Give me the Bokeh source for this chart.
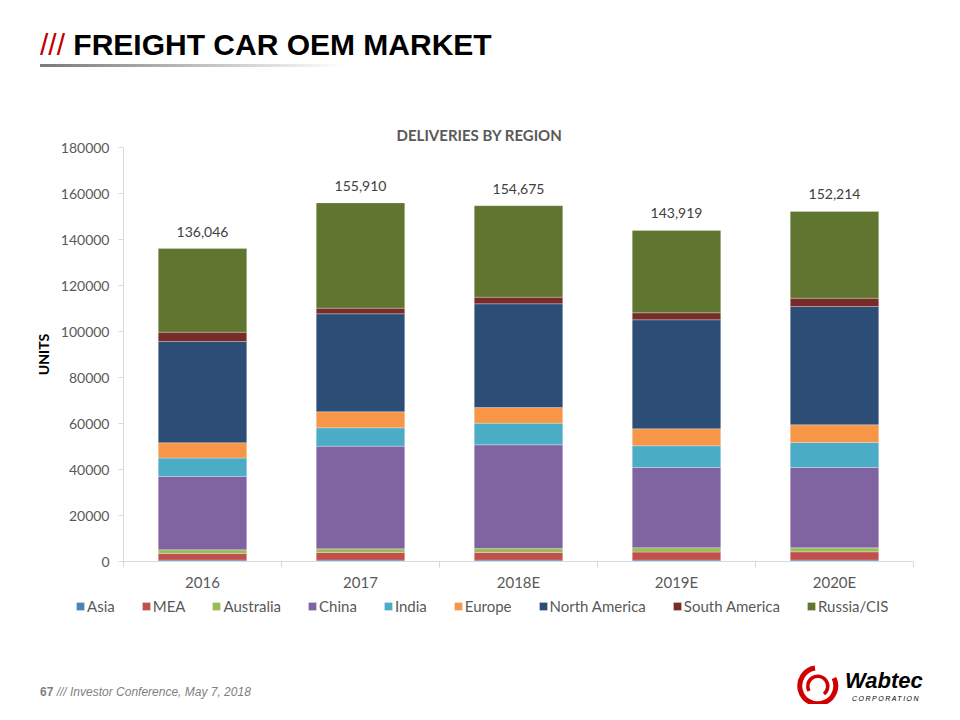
import numpy as np
from bokeh.plotting import figure
from bokeh.layouts import column
from bokeh.models import (ColumnDataSource, Range1d, FixedTicker, BasicTickFormatter,
                          Legend, LegendItem, Label, Div)
from bokeh.embed import file_html
from bokeh.resources import INLINE
from bokeh.core.properties import value

# ---------------- data ----------------
years = ["2016", "2017", "2018E", "2019E", "2020E"]
totals = [136046, 155910, 154675, 143919, 152214]
asia = [600, 600, 600, 600, 600]
mea = [2900, 3300, 3300, 3500, 3600]
australia = [1600, 1600, 1750, 1900, 1750]
china = [31900, 44640, 45090, 34870, 34920]
india = [7950, 7990, 9400, 9430, 10870]
europe = [6700, 6960, 6820, 7400, 7700]
north_america = [44000, 42610, 45090, 47390, 51430]
south_america = [4050, 2440, 2870, 3040, 3610]
russia_cis = [36346, 45770, 39755, 35789, 37734]

series_names = ["Asia", "MEA", "Australia", "China", "India", "Europe",
                "North America", "South America", "Russia/CIS"]
series_keys = ["asia", "mea", "australia", "china", "india", "europe",
               "north_america", "south_america", "russia_cis"]
series_colors = ["#4F81BD", "#C0504D", "#9BBB59", "#8064A2", "#4BACC6",
                 "#F79646", "#2C4D75", "#772C2A", "#5F7530"]
y_ticks = [0, 20000, 40000, 60000, 80000, 100000, 120000, 140000, 160000, 180000]

# ---------------- layout constants (page pixels) ----------------
W = 944
HEAD_H = 100          # header div: 0..100
MAIN_BOTTOM = 632     # chart figure: 100..632
TOTAL_H = 704         # footer div: 632..704
AX_L, AX_R, AX_T, AX_B = 123, 913, 147, 561   # where the axes sit on the page

n = len(years)
ymax = y_ticks[-1]
px_x = (AX_R - AX_L) / n          # pixels per category
px_y = (AX_B - AX_T) / ymax       # pixels per unit


def X(px):   # page x -> data x (for placing decorations)
    return (px - AX_L) / px_x


def Y(py):   # page y -> data y
    return (AX_B - py) / px_y


# ---------------- header ----------------
head_html = """
<div style="position:relative;width:944px;height:100px;overflow:hidden;
            font-family:'Liberation Sans',Arial,sans-serif;">
  <div style="position:absolute;left:40px;top:27px;font-size:30px;line-height:36px;
              white-space:nowrap;">
    <span style="color:#C00000;">///</span>
    <span style="font-weight:bold;color:#000000;">FREIGHT CAR OEM MARKET</span>
  </div>
  <div style="position:absolute;left:40px;top:64px;width:305px;height:3px;
              background:linear-gradient(to right,#7A7A7A,#FFFFFF);"></div>
</div>
"""
head = Div(text=head_html, width=W, height=HEAD_H, margin=0)

# ---------------- main chart ----------------
centers = np.arange(n) + 0.5
bounds = list(np.arange(n + 1).astype(float))

src = ColumnDataSource(dict(
    x=centers, asia=asia, mea=mea, australia=australia, china=china, india=india,
    europe=europe, north_america=north_america, south_america=south_america,
    russia_cis=russia_cis, tot=totals, lbl=[f"{t:,}" for t in totals]))

p = figure(frame_width=W, frame_height=MAIN_BOTTOM - HEAD_H, output_backend="svg",
           toolbar_location=None,
           x_range=Range1d(X(0), X(W)), y_range=Range1d(Y(MAIN_BOTTOM), Y(HEAD_H)),
           min_border=0, min_border_left=0, min_border_right=0,
           min_border_top=0, min_border_bottom=0)
p.outline_line_color = None
p.xgrid.visible = False
p.ygrid.visible = False
p.background_fill_color = "white"
p.border_fill_color = "white"

renderers = p.vbar_stack(series_keys, x="x", width=0.56, color=series_colors, source=src,
                         line_color="white", line_width=0.5, line_alpha=0.5)

p.text(x="x", y="tot", text="lbl", source=src, text_align="center", text_baseline="bottom",
       y_offset=-12, text_font=value("Lato"), text_font_size="14px", text_color="#404040")

xa = p.xaxis[0]
xa.fixed_location = 0
xa.bounds = (0, n)
xa.ticker = FixedTicker(ticks=list(centers), minor_ticks=bounds)
xa.major_label_overrides = {float(c): y for c, y in zip(centers, years)}
xa.major_tick_line_color = None
xa.major_tick_out = 0
xa.major_tick_in = 0
xa.minor_tick_line_color = "#D9D9D9"
xa.minor_tick_out = 6
xa.minor_tick_in = 0
xa.axis_line_color = "#D9D9D9"
xa.major_label_standoff = 5
xa.major_label_text_font = "Lato"
xa.major_label_text_font_size = "15px"
xa.major_label_text_color = "#595959"

ya = p.yaxis[0]
ya.fixed_location = 0
ya.bounds = (0, ymax)
ya.ticker = FixedTicker(ticks=y_ticks)
ya.formatter = BasicTickFormatter(use_scientific=False)
ya.axis_line_color = "#D9D9D9"
ya.major_tick_line_color = "#D9D9D9"
ya.major_tick_out = 5
ya.major_tick_in = 0
ya.minor_tick_line_color = None
ya.major_label_standoff = 9
ya.major_label_text_font = "Lato"
ya.major_label_text_font_size = "14px"
ya.major_label_text_color = "#595959"
ya.axis_label = "UNITS"
ya.axis_label_text_font = "Lato"
ya.axis_label_text_font_style = "bold"
ya.axis_label_text_font_size = "14px"
ya.axis_label_text_color = "#000000"
ya.axis_label_standoff = 6

p.add_layout(Label(x=X(479), y=Y(134), text="DELIVERIES BY REGION", text_align="center",
                   text_baseline="middle", text_font="Lato", text_font_style="bold",
                   text_font_size="15px", text_color="#595959"))

items = [LegendItem(label=nm, renderers=[r]) for nm, r in zip(series_names, renderers)]
legend = Legend(items=items, orientation="horizontal", location=(75, MAIN_BOTTOM - 615),
                padding=0, margin=0, spacing=26, glyph_width=10, glyph_height=10,
                label_standoff=2, label_height=16, label_text_font="Lato",
                label_text_font_size="15px", label_text_color="#595959",
                background_fill_alpha=0, border_line_color=None)
p.add_layout(legend, "center")

# ---------------- footer ----------------
logo_svg = """
<svg width="44" height="44" viewBox="-22 -22 44 44" style="position:absolute;left:796px;top:32px;">
  <path d="M -3 -18 A 18 18 0 1 0 16 -8" fill="none" stroke="#D00000" stroke-width="5"/>
  <path d="M -9 5 A 10 10 0 1 1 6 8" fill="none" stroke="#D00000" stroke-width="3.5"/>
</svg>
"""
foot_html = f"""
<div style="position:relative;width:944px;height:72px;overflow:hidden;
            font-family:'Liberation Sans',Arial,sans-serif;">
  <div style="position:absolute;left:40px;top:53px;font-size:12px;line-height:14px;
              color:#7F7F7F;white-space:nowrap;">
    <b>67</b> <i>/// Investor Conference, May 7, 2018</i>
  </div>
  {logo_svg}
  <div style="position:absolute;left:845px;top:37px;font-size:22px;line-height:24px;
              font-weight:bold;font-style:italic;color:#000;white-space:nowrap;">Wabtec</div>
  <div style="position:absolute;left:852px;top:63px;font-size:7px;line-height:8px;
              font-style:italic;letter-spacing:1.5px;color:#000;white-space:nowrap;">CORPORATION</div>
</div>
"""
foot = Div(text=foot_html, width=W, height=TOTAL_H - MAIN_BOTTOM, margin=0)

layout = column(head, p, foot, spacing=0)
open("out.html", "w").write(file_html(layout, INLINE))
